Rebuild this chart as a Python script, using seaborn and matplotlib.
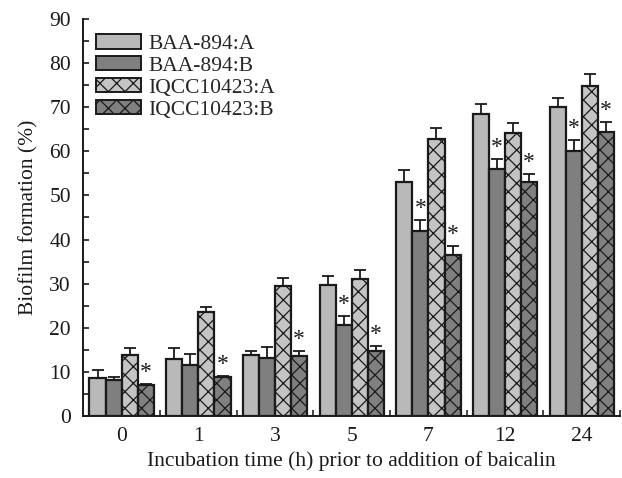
import numpy as np
import pandas as pd
import seaborn as sns
import matplotlib.pyplot as plt
from matplotlib.ticker import MultipleLocator, FixedLocator

sns.set_theme(style="ticks")
plt.rcParams['font.family'] = ['Liberation Serif', 'DejaVu Serif']
plt.rcParams['hatch.color'] = 'black'
plt.rcParams['hatch.linewidth'] = 0.9

# data
times = ["0", "1", "3", "5", "7", "12", "24"]
groups = ["BAA-894:A", "BAA-894:B", "IQCC10423:A", "IQCC10423:B"]
baa_a = [8.5, 12.9, 13.8, 29.6, 53.1, 68.5, 70.1]
baa_b = [8.2, 11.6, 13.1, 20.6, 42.0, 55.9, 60.1]
iqcc_a = [13.8, 23.5, 29.5, 31.1, 62.7, 64.2, 74.9]
iqcc_b = [7.0, 8.8, 13.5, 14.8, 36.6, 53.0, 64.3]
err_baa_a = [1.9, 2.4, 0.8, 2.2, 2.6, 2.2, 2.1]
err_baa_b = [0.6, 2.5, 2.5, 2.1, 2.4, 2.3, 2.5]
err_iqcc_a = [1.5, 1.2, 1.8, 2.0, 2.5, 2.2, 2.6]
err_iqcc_b = [0.3, 0.2, 1.2, 1.1, 1.9, 1.9, 2.3]
star_baa_b = [0, 0, 0, 1, 1, 1, 1]
star_iqcc_b = [1, 1, 1, 1, 1, 1, 1]

vals = [baa_a, baa_b, iqcc_a, iqcc_b]
errs = [err_baa_a, err_baa_b, err_iqcc_a, err_iqcc_b]
stars = [[0] * 7, star_baa_b, [0] * 7, star_iqcc_b]

df = pd.DataFrame({
    "time": np.tile(times, 4),
    "group": np.repeat(groups, 7),
    "value": np.concatenate(vals),
})

colors = ["#b9b9b9", "#7f7f7f", "#c4c4c4", "#808080"]
hatches = ["", "", "xx", "xx"]
fs = 15.5

fig = plt.figure(figsize=(6.22, 4.78), dpi=100)
ax = fig.add_axes([0.134, 0.13, 0.863, 0.83])

sns.barplot(data=df, x="time", y="value", hue="group", order=times,
            hue_order=groups, palette=colors, errorbar=None, width=0.84,
            edgecolor="#1a1a1a", linewidth=1.6, saturation=1, ax=ax)

# style each hue's bars and draw up-only error bars from the bar geometry
bar_conts = list(ax.containers)
for i, cont in enumerate(bar_conts):
    for j, bar in enumerate(cont.patches):
        bar.set_hatch(hatches[i])
        x = bar.get_x() + bar.get_width() / 2
        h = bar.get_height()
        ax.errorbar(x, h, yerr=[[0], [errs[i][j]]], fmt="none", ecolor="#1a1a1a",
                    elinewidth=1.3, capsize=4, capthick=1.3)
        if stars[i][j]:
            ax.text(x, h + errs[i][j] + 0.2, "*", ha="center", va="bottom",
                    fontsize=17, color="#1a1a1a")

ax.set_xlim(-0.5, 6.5)
ax.set_ylim(0, 90)
ax.yaxis.set_major_locator(MultipleLocator(10))
ax.yaxis.set_minor_locator(MultipleLocator(5))
ax.xaxis.set_minor_locator(FixedLocator(np.arange(0.5, 7.0, 1.0)))
ax.tick_params(axis="y", which="both", direction="in", length=4, width=1.2,
               labelsize=fs, colors="#1a1a1a", pad=9)
ax.tick_params(axis="x", which="major", length=0, labelsize=fs, pad=8,
               colors="#1a1a1a")
ax.tick_params(axis="x", which="minor", direction="in", length=4, width=1.2)
for s in ["top", "right"]:
    ax.spines[s].set_visible(False)
for s in ["left", "bottom"]:
    ax.spines[s].set_linewidth(1.4)
    ax.spines[s].set_color("#1a1a1a")

ax.set_xlabel("Incubation time (h) prior to addition of baicalin", fontsize=fs,
              color="#1a1a1a", labelpad=4)
ax.set_ylabel("Biofilm formation (%)", fontsize=fs, color="#1a1a1a", labelpad=8)

leg = ax.legend(loc="upper left", bbox_to_anchor=(-0.005, 1.0), frameon=False,
                fontsize=fs, handlelength=2.1, handleheight=0.65,
                handletextpad=0.35, labelspacing=0.1, borderaxespad=0.3)
for h, hatch in zip(leg.legend_handles, hatches):
    h.set_hatch(hatch)
    h.set_edgecolor("#1a1a1a")
    h.set_linewidth(1.4)

fig.savefig("out.png", dpi=100)
